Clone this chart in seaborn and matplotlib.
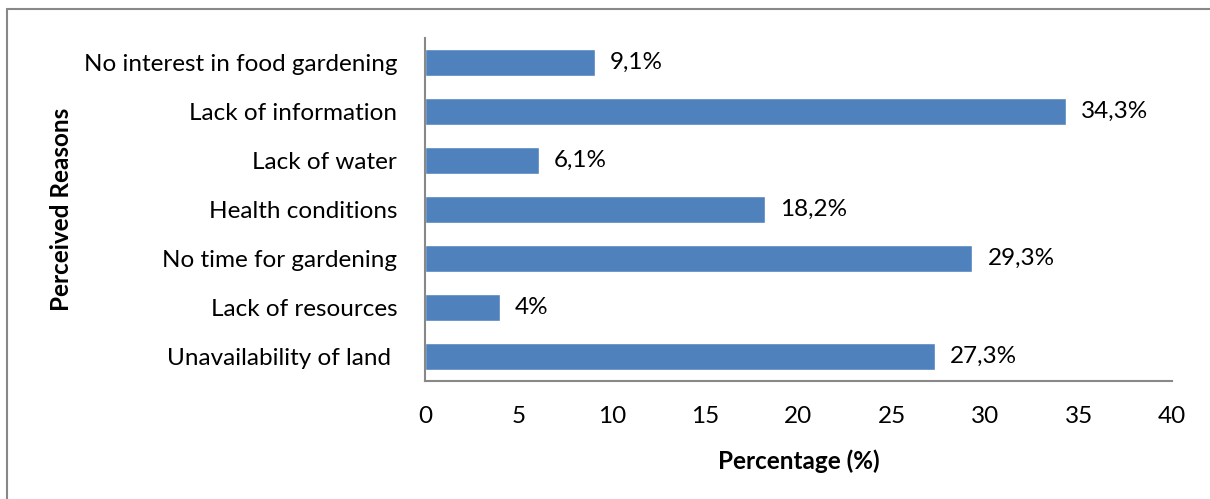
import matplotlib
matplotlib.use("Agg")
import matplotlib.pyplot as plt
from matplotlib.lines import Line2D
import seaborn as sns
import pandas as pd

reasons = [
    "No interest in food gardening",
    "Lack of information",
    "Lack of water",
    "Health conditions",
    "No time for gardening",
    "Lack of resources",
    "Unavailability of land ",
]
percentages = [9.1, 34.3, 6.1, 18.2, 29.3, 4.0, 27.3]
value_labels = ["9,1%", "34,3%", "6,1%", "18,2%", "29,3%", "4%", "27,3%"]
x_ticks = [0, 5, 10, 15, 20, 25, 30, 35, 40]

sns.set_theme(style="white")
plt.rcParams["font.family"] = ["Lato", "DejaVu Sans"]
plt.rcParams["text.color"] = "black"
plt.rcParams["xtick.color"] = "black"
plt.rcParams["ytick.color"] = "black"
plt.rcParams["axes.labelcolor"] = "black"

FS = 17.5

df = pd.DataFrame({"reason": reasons, "pct": percentages})

fig = plt.figure(figsize=(12.10, 4.99), dpi=100)
ax = fig.add_axes([0.3512, 0.2365, 0.6174, 0.6873])

sns.barplot(data=df, y="reason", x="pct", orient="h", color="#4F81BD",
            saturation=1, width=0.57, ax=ax)

for i, (v, lab) in enumerate(zip(percentages, value_labels)):
    ax.annotate(lab, xy=(v, i), xytext=(11, 0), textcoords="offset points",
                va="center", ha="left", fontsize=FS, color="black")

ax.set_xlim(0, 40)
ax.set_xticks(x_ticks)
ax.set_xticklabels([str(t) for t in x_ticks], fontsize=FS)
ax.tick_params(axis="y", labelsize=FS, length=0, pad=20)
ax.tick_params(axis="x", length=0, pad=18)
ax.set_ylim(6.5, -0.5)

for side in ["top", "right"]:
    ax.spines[side].set_visible(False)
for side in ["left", "bottom"]:
    ax.spines[side].set_color("#888888")
    ax.spines[side].set_linewidth(1.5)

ax.set_xlabel("Percentage (%)", fontsize=FS, fontweight="bold", labelpad=16)
ax.set_ylabel("")
fig.text(0.0512, 0.58, "Perceived Reasons", rotation=90, fontsize=FS,
         fontweight="bold", ha="center", va="center")

# frame lines along the top and left edges of the chart area
fig.add_artist(Line2D([0.0058, 1.0], [0.982, 0.982], transform=fig.transFigure,
                      color="#888888", linewidth=1.5))
fig.add_artist(Line2D([0.0058, 0.0058], [0.0, 0.982], transform=fig.transFigure,
                      color="#888888", linewidth=1.5))

fig.savefig("out.png", dpi=100)
